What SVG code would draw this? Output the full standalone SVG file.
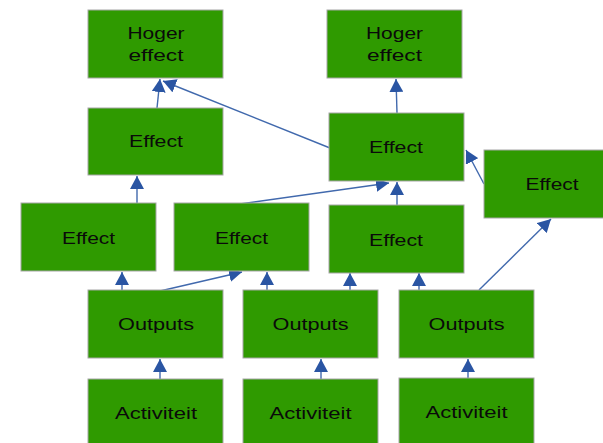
<svg xmlns="http://www.w3.org/2000/svg" width="603" height="443" viewBox="0 0 603 443">
<defs>
<style>
.box{fill:#2f9a00;stroke:#a6a6a6;stroke-width:1}
.t{font-family:"Liberation Sans",Arial,sans-serif;font-size:17px;fill:#0a0a0a;text-anchor:middle}
.c{stroke:#4169ad;stroke-width:1.4;fill:none;marker-end:url(#ah)}
</style>
<marker id="ah" markerUnits="userSpaceOnUse" markerWidth="14" markerHeight="14" refX="13" refY="7" orient="auto">
<path d="M0,0 L13,7 L0,14 z" fill="#2a55a3"/>
</marker>
</defs>
<rect width="603" height="443" fill="#fff"/>
<g id="connectors">
<line class="c" x1="157" y1="108" x2="160" y2="79"/>
<line class="c" x1="330" y1="148" x2="163" y2="81"/>
<line class="c" x1="397" y1="113" x2="396" y2="79"/>
<line class="c" x1="137" y1="203" x2="137" y2="176"/>
<line class="c" x1="484" y1="184" x2="466" y2="150"/>
<line class="c" x1="240" y1="204" x2="389" y2="183"/>
<line class="c" x1="397" y1="205" x2="397" y2="182"/>
<line class="c" x1="122" y1="290" x2="122" y2="272"/>
<line class="c" x1="160" y1="291" x2="242" y2="272"/>
<line class="c" x1="267" y1="290" x2="267" y2="272"/>
<line class="c" x1="350" y1="295" x2="350" y2="273"/>
<line class="c" x1="419" y1="295" x2="419" y2="273"/>
<line class="c" x1="479" y1="290" x2="551" y2="219"/>
<line class="c" x1="160" y1="379" x2="160" y2="359"/>
<line class="c" x1="321" y1="379" x2="321" y2="359"/>
<line class="c" x1="468" y1="378" x2="468" y2="359"/>
</g>
<g id="hoger1"><rect class="box" x="88" y="10" width="135" height="68"/><text class="t" x="156" y="39" textLength="57" lengthAdjust="spacingAndGlyphs">Hoger</text><text class="t" x="156" y="61" textLength="55" lengthAdjust="spacingAndGlyphs">effect</text></g>
<g id="hoger2"><rect class="box" x="327" y="10" width="135" height="68"/><text class="t" x="394.5" y="39" textLength="57" lengthAdjust="spacingAndGlyphs">Hoger</text><text class="t" x="394.5" y="61" textLength="55" lengthAdjust="spacingAndGlyphs">effect</text></g>
<g id="effect-l2"><rect class="box" x="88" y="108" width="135" height="67"/><text class="t" x="156" y="147" textLength="54" lengthAdjust="spacingAndGlyphs">Effect</text></g>
<g id="effect-m2"><rect class="box" x="329" y="113" width="135" height="68"/><text class="t" x="396" y="153" textLength="54" lengthAdjust="spacingAndGlyphs">Effect</text></g>
<g id="effect-r"><rect class="box" x="484" y="150" width="120" height="68"/><text class="t" x="552" y="190" textLength="53" lengthAdjust="spacingAndGlyphs">Effect</text></g>
<g id="effect-a"><rect class="box" x="21" y="203" width="135" height="68"/><text class="t" x="88.5" y="244" textLength="53" lengthAdjust="spacingAndGlyphs">Effect</text></g>
<g id="effect-b"><rect class="box" x="174" y="203" width="135" height="68"/><text class="t" x="241.5" y="244" textLength="53" lengthAdjust="spacingAndGlyphs">Effect</text></g>
<g id="effect-c"><rect class="box" x="329" y="205" width="135" height="68"/><text class="t" x="396" y="246" textLength="54" lengthAdjust="spacingAndGlyphs">Effect</text></g>
<g id="outputs1"><rect class="box" x="88" y="290" width="135" height="68"/><text class="t" x="156" y="330" textLength="76" lengthAdjust="spacingAndGlyphs">Outputs</text></g>
<g id="outputs2"><rect class="box" x="243" y="290" width="135" height="68"/><text class="t" x="310.5" y="330" textLength="76" lengthAdjust="spacingAndGlyphs">Outputs</text></g>
<g id="outputs3"><rect class="box" x="399" y="290" width="135" height="68"/><text class="t" x="466.5" y="330" textLength="76" lengthAdjust="spacingAndGlyphs">Outputs</text></g>
<g id="activiteit1"><rect class="box" x="88" y="379" width="135" height="70"/><text class="t" x="156" y="419" textLength="82" lengthAdjust="spacingAndGlyphs">Activiteit</text></g>
<g id="activiteit2"><rect class="box" x="243" y="379" width="135" height="70"/><text class="t" x="310.5" y="419" textLength="82" lengthAdjust="spacingAndGlyphs">Activiteit</text></g>
<g id="activiteit3"><rect class="box" x="399" y="378" width="135" height="70"/><text class="t" x="466.5" y="418" textLength="82" lengthAdjust="spacingAndGlyphs">Activiteit</text></g>
</svg>
